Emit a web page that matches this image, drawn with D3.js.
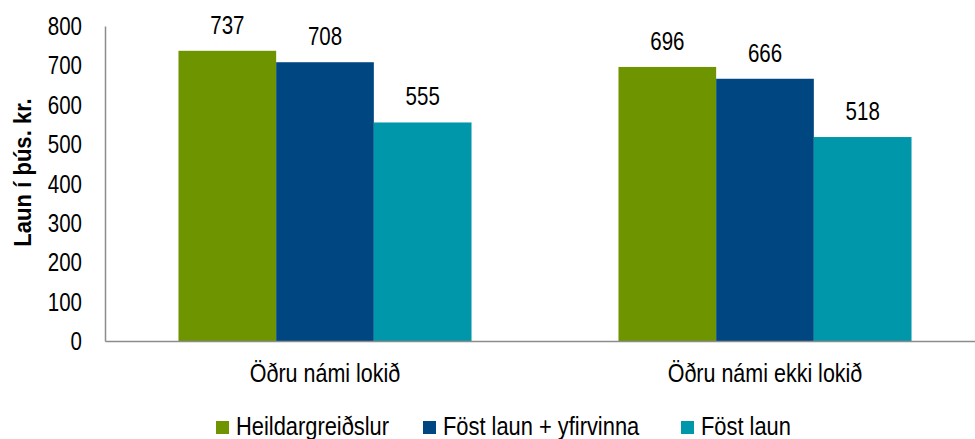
<!DOCTYPE html>
<html>
<head>
<meta charset="utf-8">
<script src="https://cdn.jsdelivr.net/npm/d3@7"></script>
<style>
  html, body { margin: 0; padding: 0; background: #fff; }
  svg { display: block; font-family: "Liberation Sans", Arial, sans-serif; }
</style>
</head>
<body>
<svg id="chart" width="975" height="439"></svg>
<script>
// Laun eftir námi
const categories = ["Öðru námi lokið", "Öðru námi ekki lokið"];
const seriesNames = ["Heildargreiðslur", "Föst laun + yfirvinna", "Föst laun"];
const heildargreidslur = [737, 696];
const fostLaunYfirvinna = [708, 666];
const fostLaun = [555, 518];
const yTicks = [0, 100, 200, 300, 400, 500, 600, 700, 800];
const colors = ["#6E9400", "#004680", "#0097AA"];

const seriesValues = [heildargreidslur, fostLaunYfirvinna, fostLaun];

// Narrow-looking type: regular sans squeezed horizontally
const SQ_NUM = 0.82;
const SQ_TXT = 0.875;
const FS = 25;

const svg = d3.select("#chart");
const margin = { top: 26, right: -10, bottom: 98, left: 105 };
const width = 975 - margin.left - margin.right;
const height = 439 - margin.top - margin.bottom;
const g = svg.append("g").attr("transform", `translate(${margin.left},${margin.top})`);

const x0 = d3.scaleBand().domain(categories).range([0, width])
  .paddingInner(0.334).paddingOuter(0.167);
const x1 = d3.scaleBand().domain(seriesNames).range([0, x0.bandwidth()]);
const y = d3.scaleLinear().domain([0, 800]).range([height, 0]);

function label(parent, tx, ty, txt, anchor, size, sq) {
  return parent.append("text")
    .attr("transform", `translate(${tx},${ty}) scale(${sq},1)`)
    .attr("text-anchor", anchor)
    .attr("font-size", size)
    .attr("fill", "#000")
    .text(txt);
}

// Bars
categories.forEach((cat, ci) => {
  const grp = g.append("g").attr("transform", `translate(${x0(cat)},0)`);
  seriesNames.forEach((s, si) => {
    const v = seriesValues[si][ci];
    grp.append("rect")
      .attr("x", x1(s))
      .attr("y", y(v))
      .attr("width", x1.bandwidth())
      .attr("height", y(0) - y(v))
      .attr("fill", colors[si]);
    label(grp, x1(s) + x1.bandwidth() / 2, y(v) - 17, v, "middle", FS, SQ_NUM);
  });
});

// Y axis
const yAxis = g.append("g").call(d3.axisLeft(y).tickValues(yTicks).tickSize(0));
yAxis.select(".domain").attr("stroke", "#8c8c8c").attr("stroke-width", 1.5);
yAxis.selectAll(".tick text")
  .attr("x", null).attr("dy", "0.34em")
  .attr("transform", `translate(-23,0) scale(${SQ_NUM},1)`)
  .attr("font-size", FS).attr("fill", "#000")
  .attr("font-family", "Liberation Sans, Arial, sans-serif");

// X axis
const xAxis = g.append("g").attr("transform", `translate(0,${height})`)
  .call(d3.axisBottom(x0).tickSize(0));
xAxis.select(".domain").attr("stroke", "#8c8c8c").attr("stroke-width", 1.5);
xAxis.selectAll(".tick text")
  .attr("y", null).attr("dy", null)
  .attr("transform", `translate(0,41) scale(0.86,1)`)
  .attr("font-size", FS).attr("fill", "#000")
  .attr("font-family", "Liberation Sans, Arial, sans-serif");

// Y axis title
svg.append("text")
  .attr("transform", `translate(31,${margin.top + height / 2 - 11}) rotate(-90) scale(0.92,1)`)
  .attr("text-anchor", "middle")
  .attr("font-size", 24)
  .attr("font-weight", "bold")
  .text("Laun í þús. kr.");

// Legend
const legendX = [216, 423, 681];
const legend = svg.append("g").attr("transform", "translate(0,421)");
seriesNames.forEach((s, i) => {
  legend.append("rect").attr("x", legendX[i]).attr("y", 0)
    .attr("width", 13).attr("height", 13).attr("fill", colors[i]);
  label(legend, legendX[i] + 20, 14, s, "start", FS, SQ_TXT);
});
</script>
</body>
</html>
